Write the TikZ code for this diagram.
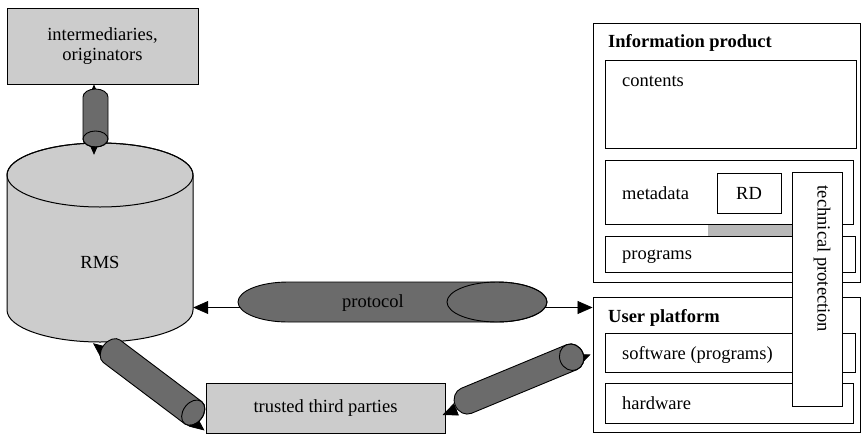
\documentclass[tikz,border=0pt]{standalone}
\usepackage{fontspec}
\setmainfont{Liberation Serif}
\usetikzlibrary{arrows.meta,calc}

\definecolor{panelgray}{gray}{0.80}
\definecolor{pipegray}{gray}{0.42}
\definecolor{stripgray}{gray}{0.72}

\tikzset{
  lbl/.style={font=\fontsize{18.5}{21}\selectfont, inner sep=0pt},
  graybox/.style={draw=black, line width=1pt, fill=panelgray, inner sep=0pt,
    font=\fontsize{18.5}{21}\selectfont, align=center},
  framebox/.style={draw=black, line width=0.9pt, inner sep=0pt},
  pipebody/.style={fill=pipegray, draw=black, line width=0.9pt},
  link/.style={draw=black, line width=0.7pt,
    {Triangle[length=15pt,width=13pt]}-{Triangle[length=15pt,width=13pt]}}
}

% A pipe lying along the x axis of a shifted, rotated scope:
% #1 centre, #2 rotation, #3 half distance between the end centres,
% #4 end cap radius along the axis, #5 half thickness.
% The visible end face sits at the +x end.
\newcommand\drawpipe[5]{%
  \begin{scope}[shift={#1}, rotate=#2]
    \path[pipebody] (-#3,-#5) -- (#3,-#5)
      arc[start angle=90, end angle=-90, x radius=#4pt, y radius=#5pt]
      -- (-#3,#5)
      arc[start angle=270, end angle=90, x radius=#4pt, y radius=#5pt]
      -- cycle;
    \draw[line width=0.9pt] (#3,0) ellipse[x radius=#4pt, y radius=#5pt];
  \end{scope}}

\begin{document}
\begin{tikzpicture}[x=1pt, y=-1pt]
\useasboundingbox (0,0) rectangle (861,434);

% --- RMS store -------------------------------------------------------
\path[fill=panelgray, draw=black, line width=1pt]
  (7,175) -- (7,310)
  arc[start angle=180, end angle=360, x radius=93pt, y radius=32pt]
  -- (193,175)
  arc[start angle=0, end angle=180, x radius=93pt, y radius=32pt] -- cycle;
\draw[line width=1pt] (100,175) ellipse[x radius=93pt, y radius=32pt];
\node[minimum width=186pt, minimum height=199pt, inner sep=0pt] (rms) at (100,242.5) {};
\node[lbl] (rmstext) at (100,262) {RMS};

% --- parties ---------------------------------------------------------
\node[graybox, minimum width=191pt, minimum height=76pt] (inter) at (102.5,46)
  {intermediaries,\\[-1pt]originators};
\node[graybox, minimum width=239pt, minimum height=50pt] (trusted) at (325.5,408)
  {trusted third parties};

% --- information product ---------------------------------------------
\node[framebox, minimum width=267pt, minimum height=259pt] (ip) at (726.5,152.5) {};
\node[lbl, anchor=west, font=\fontsize{18.5}{21}\selectfont\bfseries] (iptext) at (608,43) {Information product};
\node[framebox, minimum width=251pt, minimum height=88pt] (ct) at (730.5,104) {};
\node[lbl, anchor=west] (cttext) at (622,81) {contents};
\node[framebox, minimum width=248pt, minimum height=64pt] (md) at (729,192) {};
\node[lbl, anchor=west] (mdtext) at (622,193) {metadata};
\node[framebox, minimum width=64pt, minimum height=40pt, font=\fontsize{18.5}{21}\selectfont] (rd) at (749,193) {RD};
\node[fill=stripgray, minimum width=84pt, minimum height=11pt, inner sep=0pt] (strip) at (750,230.5) {};
\node[framebox, minimum width=250pt, minimum height=36pt] (pg) at (730,254) {};
\node[lbl, anchor=west] (pgtext) at (622,257) {programs};

% --- user platform ---------------------------------------------------
\node[framebox, minimum width=267pt, minimum height=135pt] (up) at (726.5,364.5) {};
\node[lbl, anchor=west, font=\fontsize{18.5}{21}\selectfont\bfseries] (uptext) at (608,318) {User platform};
\node[framebox, minimum width=250pt, minimum height=39pt] (sw) at (730,352.5) {};
\node[lbl, anchor=west] (swtext) at (622,355) {software (programs)};
\node[framebox, minimum width=248pt, minimum height=40pt] (hw) at (729,403) {};
\node[lbl, anchor=west] (hwtext) at (622,403) {hardware};

% --- technical protection spanning both groups -------------------------
\node[framebox, fill=white, minimum width=50pt, minimum height=234pt] (tp) at (817,289) {};
\node[lbl, rotate=-90] (tptext) at (822,259) {technical protection};

% --- connectors ------------------------------------------------------
\draw[link] ($(inter.south)+(-8.5,0)$) -- ($(rms.north)+(-6,12)$);
\draw[link] ($(rms.east)+(0,65)$) -- ($(up.west)+(0,-57)$);
\draw[link] ($(rms.south)+(-7,1)$) -- ($(trusted.south west)+(-1,-3)$);
\draw[link] ($(trusted.east)+(-3,7)$) -- ($(up.west)+(-2,-10)$);

% --- pipes over the connectors ---------------------------------------
\drawpipe{(95.5,118)}{-90}{21}{8}{12.5}
\drawpipe{(392.5,302)}{0}{104.5}{50}{20}
\drawpipe{(152.5,382)}{-37}{51}{10}{14}
\drawpipe{(519,379)}{22.5}{57}{12}{13.5}
\node[lbl] (prottext) at (373,303) {protocol};
\end{tikzpicture}
\end{document}
